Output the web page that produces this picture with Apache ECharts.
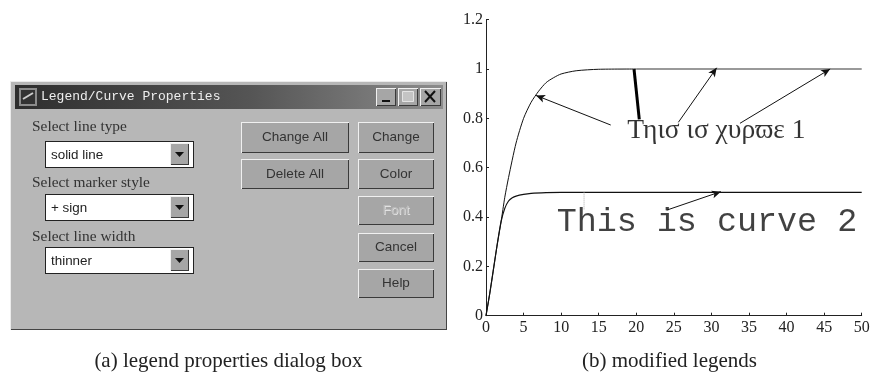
<!DOCTYPE html>
<html>
<head>
<meta charset="utf-8">
<style>html,body{margin:0;padding:0;background:#fff}#chart{width:876px;height:378px}</style>
<script src="https://cdn.jsdelivr.net/npm/echarts@6/dist/echarts.min.js"></script>
</head>
<body>
<div id="chart"></div>
<script>
// curves as [x, y]
var curve1 = [[0,0],[0.5,0.09],[1,0.19],[1.5,0.29],[2,0.38],[2.5,0.48],[3,0.56],[4,0.7],[5,0.8],[6,0.865],[7,0.91],[8,0.945],[9,0.965],[10,0.98],[12,0.993],[15,0.999],[20,1]];
var curve1Tail = [[20,1],[50,1]];
var curve2 = [[0,0],[0.5,0.09],[1,0.19],[1.5,0.29],[2,0.38],[2.5,0.435],[3,0.465],[3.5,0.478],[4,0.485],[5,0.492],[6,0.496],[8,0.499],[10,0.5],[50,0.5]];

// annotation arrows, from -> to in data units
var arrows = [
  [[16.6,0.773],[6.66,0.893]],
  [[25.6,0.784],[30.7,1.005]],
  [[33.8,0.78],[45.8,1.0]],
  [[24.05,0.428],[31.25,0.503]]
];
var thickLine = [[20.4,0.796],[19.7,1]];
var dottedLine = [[13.05,0.5],[13.05,0.43]];
var label1 = '\u03a4\u03b7\u03b9\u03c3 \u03b9\u03c3 \u03c7\u03c5\u03c1\u03d6\u03b5 1';
var label2 = 'This is curve 2';
var label1Pos = [18.8,0.75];
var label2Pos = [9.4,0.38];

// dialog texts
var dialogTitle = 'Legend/Curve Properties';
var selectLabels = ['Select line type','Select marker style','Select line width'];
var selectValues = ['solid line','+ sign','thinner'];
var wideButtons = ['Change All','Delete All'];
var sideButtons = ['Change','Color','Font','Cancel','Help'];
var captionA = '(a) legend properties dialog box';
var captionB = '(b) modified legends';

var SERIF = '"Liberation Serif","Times New Roman",serif';
var SANS = '"Liberation Sans",Arial,sans-serif';
var MONO = '"Liberation Mono","Courier New",monospace';

function box(x,y,w,h,fill){
  return {type:'rect',shape:{x:x,y:y,width:w,height:h},style:{fill:fill}};
}
function txt(x,y,s,font,size,color,align){
  return {type:'text',x:x,y:y,style:{text:s,fontFamily:font,fontSize:size,fill:color,align:align||'left',verticalAlign:'middle'}};
}
function button(x,y,w,h,label,disabled){
  var out = [
    box(x,y,w,h,'#f0f0f0'),
    box(x+1,y+1,w-1,h-1,'#3a3a3a'),
    box(x+1,y+1,w-2,h-2,'#a6a6a6')
  ];
  if(disabled) out.push(txt(x+w/2+0.7,y+h/2+0.7,label,SANS,13.5,'#e2e2e2','center'));
  out.push(txt(x+w/2,y+h/2,label,SANS,13.5,disabled?'#bdbdbd':'#333','center'));
  return out;
}

var g = [];
// window frame
g.push(box(10,81,437,249,'#ececec'));
g.push(box(11,82,436,248,'#444'));
g.push(box(11,82,435,247,'#b7b7b7'));
// title bar
g.push({type:'rect',shape:{x:15,y:85,width:428,height:24},style:{fill:new echarts.graphic.LinearGradient(0,0,1,0,[{offset:0,color:'#2e2e2e'},{offset:0.55,color:'#555'},{offset:1,color:'#8c8c8c'}])}});
g.push(box(19,88,18,18,'#8c8c8c'));
g.push(box(21,90,14,14,'#333'));
g.push({type:'polyline',shape:{points:[[23,99],[28,96],[33,93]]},style:{stroke:'#ccc',fill:null,lineWidth:2}});
g.push(txt(41,97,dialogTitle,MONO,13,'#eee'));
// window buttons
[[376,20],[398,20],[420,21]].forEach(function(b){
  g = g.concat(button(b[0],88,b[1],18,'',false));
});
g.push(box(382,100,8,2,'#111'));
g.push({type:'rect',shape:{x:402.5,y:91.5,width:11,height:10},style:{fill:'#c4c4c4',stroke:'#e4e4e4',lineWidth:1}});
g.push({type:'polyline',shape:{points:[[425,91],[435,102]]},style:{stroke:'#111',lineWidth:2,fill:null}});
g.push({type:'polyline',shape:{points:[[435,91],[425,102]]},style:{stroke:'#111',lineWidth:2,fill:null}});
// select boxes
var labelY = [127,183,237], comboY = [141,194,247];
selectLabels.forEach(function(s,i){
  g.push(txt(32,labelY[i],s,SERIF,15.4,'#333'));
  g.push(box(45,comboY[i],149,27,'#222'));
  g.push(box(46,comboY[i]+1,147,25,'#fff'));
  g.push(txt(51,comboY[i]+14,selectValues[i],SANS,13.4,'#222'));
  g = g.concat(button(170,comboY[i]+2,19,22,'',false));
  g.push({type:'polygon',shape:{points:[[175,comboY[i]+11],[184,comboY[i]+11],[179.5,comboY[i]+16]]},style:{fill:'#111'}});
});
// buttons
var wideY = [122,159], sideY = [122,159,196,233,269], sideH = [31,30,29,29,29];
wideButtons.forEach(function(s,i){ g = g.concat(button(241,wideY[i],108,i==0?31:30,s,false)); });
sideButtons.forEach(function(s,i){ g = g.concat(button(358,sideY[i],76,sideH[i],s,s=='Font')); });
// captions
g.push(txt(228.5,361.5,captionA,SERIF,21,'#222','center'));
g.push(txt(669.5,361.5,captionB,SERIF,21,'#222','center'));

var arrowData = arrows.map(function(a){
  return [{coord:a[0]},{coord:a[1]}];
});

var myChart = echarts.init(document.getElementById('chart'));
myChart.setOption({
  animation: false,
  backgroundColor: '#fff',
  grid: {left:486, top:19.7, width:375.7, height:296, containLabel:false, show:false},
  xAxis: {
    type:'value', min:0, max:50, interval:5,
    axisLine:{onZero:false,lineStyle:{color:'#222',width:1}},
    axisTick:{inside:true,length:3,lineStyle:{color:'#222'}},
    axisLabel:{color:'#222',fontFamily:SERIF,fontSize:16,margin:4,hideOverlap:false,showMinLabel:true,showMaxLabel:true},
    splitLine:{show:false}
  },
  yAxis: {
    type:'value', min:0, max:1.2, interval:0.2,
    axisLine:{show:true,onZero:false,lineStyle:{color:'#222',width:1}},
    axisTick:{show:true,inside:true,length:3,lineStyle:{color:'#222'}},
    axisLabel:{color:'#222',fontFamily:SERIF,fontSize:16,margin:3,hideOverlap:false},
    splitLine:{show:false}
  },
  series: [
    {name:'curve1',type:'line',data:curve1,smooth:0.25,showSymbol:false,lineStyle:{color:'#111',width:1},silent:true,
     markLine:{silent:true,animation:false,symbol:['none','arrow'],symbolSize:[6,9],label:{show:false},
       lineStyle:{color:'#111',width:1,type:'solid'},data:arrowData}},
    {name:'curve1Tail',type:'line',data:curve1Tail,showSymbol:false,lineStyle:{color:'#777',width:1.5},silent:true},
    {name:'curve2',type:'line',data:curve2,smooth:0.25,showSymbol:false,lineStyle:{color:'#111',width:1.2},silent:true},
    {name:'thick',type:'line',data:thickLine,showSymbol:false,lineStyle:{color:'#000',width:3},silent:true},
    {name:'dotted',type:'line',data:dottedLine,showSymbol:false,lineStyle:{color:'#aaa',width:1,type:'dotted'},silent:true},
    {name:'label1',type:'scatter',symbolSize:0,data:[label1Pos],silent:true,
     label:{show:true,position:'right',distance:0,formatter:label1,fontFamily:SERIF,fontSize:27.5,color:'#000'}},
    {name:'label2',type:'scatter',symbolSize:0,data:[label2Pos],silent:true,
     label:{show:true,position:'right',distance:0,formatter:label2,fontFamily:MONO,fontSize:33.4,color:'#111'}}
  ],
  graphic: {elements:g}
});
</script>
</body>
</html>
